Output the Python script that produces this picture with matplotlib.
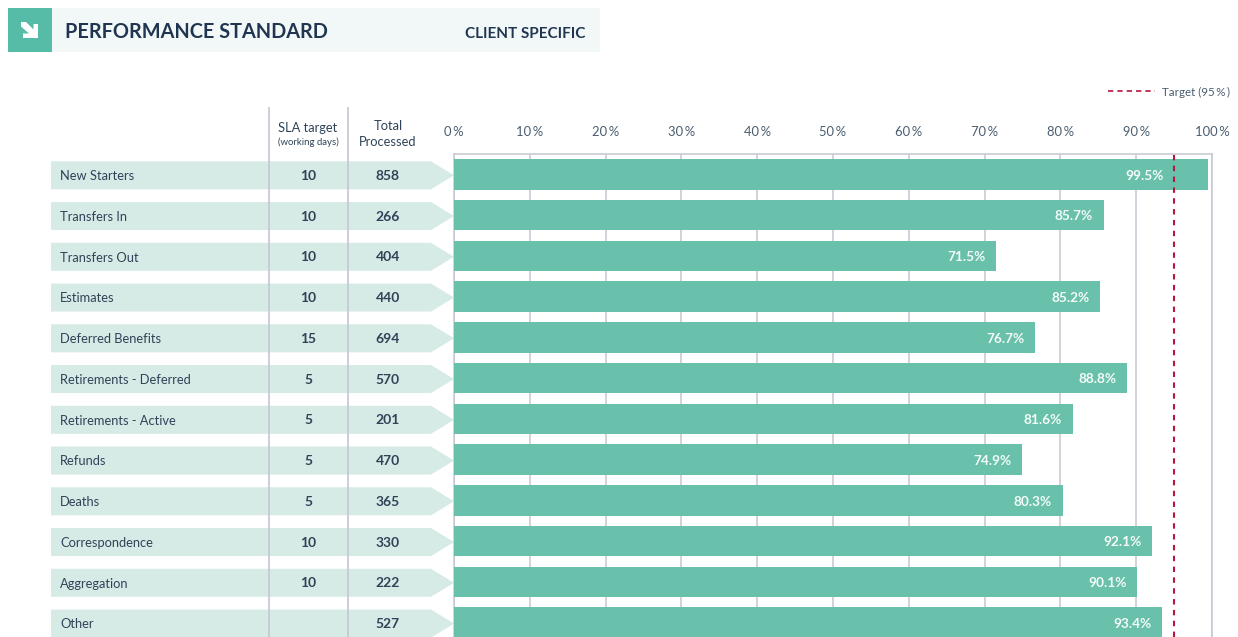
import matplotlib
matplotlib.use("Agg")
import matplotlib.pyplot as plt
from matplotlib.patches import Polygon, Rectangle

plt.rcParams['font.family'] = ['Lato', 'DejaVu Sans']

# Data
categories = ['New Starters', 'Transfers In', 'Transfers Out', 'Estimates',
              'Deferred Benefits', 'Retirements - Deferred', 'Retirements - Active',
              'Refunds', 'Deaths', 'Correspondence', 'Aggregation', 'Other']
sla_target = ['10', '10', '10', '10', '15', '5', '5', '5', '5', '10', '10', '']
total_processed = [858, 266, 404, 440, 694, 570, 201, 470, 365, 330, 222, 527]
performance = [99.5, 85.7, 71.5, 85.2, 76.7, 88.8, 81.6, 74.9, 80.3, 92.1, 90.1, 93.4]
target = 95
x_ticks = [0, 10, 20, 30, 40, 50, 60, 70, 80, 90, 100]

W, H = 1238, 637
TEXT = '#2f4358'
TICK = '#4a5d70'
BAR = '#69c0ab'
BAND = '#d6ebe6'
GRID = '#c6c6d2'
RED = '#b5173f'
ROW_STEP = 40.75

fig = plt.figure(figsize=(W / 100, H / 100), dpi=100, facecolor='white')

# Overlay in pixel coordinates for the header and table part
bg = fig.add_axes([0, 0, 1, 1])
bg.set_xlim(0, W)
bg.set_ylim(H, 0)
bg.axis('off')

bg.add_patch(Rectangle((52, 8), 548, 44, facecolor='#f2f8f8', edgecolor='none'))
bg.add_patch(Rectangle((8, 8), 44, 44, facecolor='#56bba7', edgecolor='none'))
# arrow icon
bg.add_patch(Polygon([(21, 22), (26, 22), (33.5, 29.5), (33.5, 24), (38, 24), (38, 38),
                      (23, 38), (23, 33.5), (29, 33.5), (21, 26.5)],
                     facecolor='white', edgecolor='none'))
bg.text(65, 32, 'PERFORMANCE STANDARD', fontsize=14.3, fontweight='bold', color='#1f3550',
        va='center', ha='left')
bg.text(465, 33.5, 'CLIENT SPECIFIC', fontsize=11, fontweight='bold', color='#1f3550',
        va='center', ha='left')

for i, name in enumerate(categories):
    top = 161.3 + ROW_STEP * i
    mid = top + 14
    bg.add_patch(Polygon([(51, top), (431, top), (454, mid), (431, top + 28), (51, top + 28)],
                         facecolor=BAND, edgecolor='none'))
    bg.text(60, mid + 0.8, name, fontsize=9.25, color=TEXT, va='center', ha='left')
    bg.text(308.5, mid + 0.5, sla_target[i], fontsize=10, fontweight='bold', color=TEXT,
            va='center', ha='center')
    bg.text(388, mid + 0.5, str(total_processed[i]), fontsize=10, fontweight='bold', color=TEXT,
            va='center', ha='center')

for sep in (268.5, 348):
    bg.plot([sep, sep], [107, H], color=GRID, lw=1.2, solid_capstyle='butt')

bg.text(308, 128.5, 'SLA target', fontsize=9.3, color=TEXT, va='center', ha='center')
bg.text(308, 142.5, '(working days)', fontsize=6.9, color=TEXT, va='center', ha='center')
bg.text(388, 125.5, 'Total', fontsize=9.3, color=TEXT, va='center', ha='center')
bg.text(388, 142, 'Processed', fontsize=9.3, color=TEXT, va='center', ha='center')

# legend for the target line
bg.plot([1108, 1155], [91, 91], color=RED, lw=1.2, ls=(0, (3.2, 2.4)))
bg.text(1162, 92, 'Target (95\u2009%\u2009)', fontsize=8.4, color=TICK, va='center', ha='left')

# Main bar chart
ax = fig.add_axes([454 / W, 0, (1212 - 454) / W, (H - 154) / H])
ax.patch.set_alpha(0)
ax.set_xlim(0, 100)
y_top = (154 - 174.3) / ROW_STEP
y_bottom = (H - 174.3) / ROW_STEP
ax.set_ylim(y_bottom, y_top)

ax.barh(range(len(performance)), performance, height=30.5 / ROW_STEP, color=BAR, zorder=3)
ax.axvline(target, color=RED, lw=1.5, ls=(0, (2.6, 2.6)), zorder=5)

for i, v in enumerate(performance):
    # label stays clear of the target line
    lx = v - 1.4 if v < target else target - 1.3
    ax.text(lx, i + 0.03, f'{v}%', color='#f4fbf9', fontsize=9.8, fontweight='bold',
            va='center', ha='right', zorder=6)

ax.xaxis.tick_top()
ax.set_xticks(x_ticks)
ax.set_xticklabels([f'{t}\u2009%' for t in x_ticks])
ax.tick_params(axis='x', length=0, pad=11.5, labelsize=9.4, labelcolor=TICK)
ax.set_yticks([])
ax.grid(axis='x', color=GRID, lw=1.1, zorder=1)
ax.set_axisbelow(True)
ax.spines['bottom'].set_visible(False)
for s in ('top', 'left', 'right'):
    ax.spines[s].set_color(GRID)
    ax.spines[s].set_linewidth(1.1)

fig.savefig('out.png', dpi=100)
plt.close(fig)
